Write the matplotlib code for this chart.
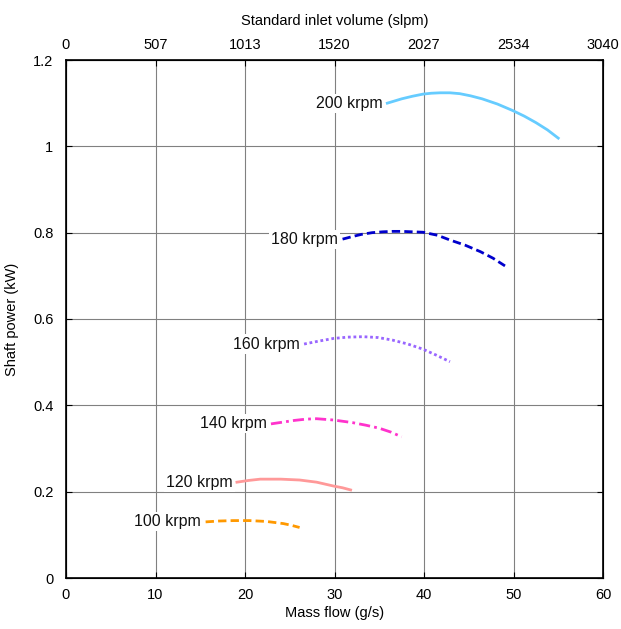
import matplotlib
matplotlib.use("Agg")
import matplotlib.pyplot as plt

plt.rcParams['font.family'] = ['Liberation Sans', 'DejaVu Sans']

labels = ["200 krpm", "180 krpm", "160 krpm", "140 krpm", "120 krpm", "100 krpm"]
flow_200 = [35.9, 36.7, 37.5, 38.7, 39.9, 40.8, 41.8, 42.9, 44.0, 45.2, 46.5, 48.2, 49.9, 51.2, 52.5, 53.8, 55.0]
power_200 = [1.100, 1.105, 1.110, 1.116, 1.121, 1.123, 1.124, 1.124, 1.122, 1.117, 1.110, 1.098, 1.083, 1.070, 1.055, 1.038, 1.019]
flow_180 = [30.9, 32.0, 33.0, 34.2, 35.4, 36.5, 37.5, 38.7, 39.9, 41.5, 42.9, 44.6, 46.3, 47.7, 49.05]
power_180 = [0.785, 0.791, 0.796, 0.800, 0.802, 0.803, 0.803, 0.802, 0.801, 0.794, 0.783, 0.771, 0.756, 0.741, 0.723]
flow_160 = [26.6, 28.3, 29.9, 31.5, 33.2, 34.9, 36.5, 38.2, 39.9, 41.4, 42.9]
power_160 = [0.542, 0.549, 0.555, 0.558, 0.559, 0.557, 0.551, 0.542, 0.530, 0.516, 0.501]
flow_140 = [22.9, 24.2, 25.5, 26.8, 28.0, 29.9, 32.0, 33.5, 35.0, 36.3, 37.5]
power_140 = [0.357, 0.361, 0.365, 0.368, 0.369, 0.366, 0.360, 0.354, 0.347, 0.338, 0.327]
flow_120 = [19.1, 20.4, 21.7, 24.0, 26.1, 28.0, 29.9, 30.9, 31.8]
power_120 = [0.222, 0.226, 0.229, 0.229, 0.227, 0.222, 0.213, 0.209, 0.204]
flow_100 = [15.6, 17.1, 18.7, 20.5, 22.4, 24.3, 25.2, 26.1]
power_100 = [0.130, 0.132, 0.133, 0.133, 0.131, 0.126, 0.122, 0.117]

x_ticks = [0, 10, 20, 30, 40, 50, 60]
y_ticks = [0, 0.2, 0.4, 0.6, 0.8, 1.0, 1.2]
y_ticklabels = ["0", "0.2", "0.4", "0.6", "0.8", "1", "1.2"]
top_ticklabels = ["0", "507", "1013", "1520", "2027", "2534", "3040"]

series = [
    (flow_200, power_200, "#66CCFF", "-"),
    (flow_180, power_180, "#0000CC", (0, (3, 1.5))),
    (flow_160, power_160, "#9966FF", (0, (1, 1))),
    (flow_140, power_140, "#FF33CC", (0, (4, 1.5, 1, 1.5))),
    (flow_120, power_120, "#FF9999", "-"),
    (flow_100, power_100, "#FF9900", (0, (3, 1.5))),
]

fig = plt.figure(figsize=(6.21, 6.29), dpi=100)
ax = fig.add_axes([66/621, 51/629, 537/621, 518/629])

for (fx, py, c, ls), lab in zip(series, labels):
    ax.plot(fx, py, color=c, linestyle=ls, linewidth=2, zorder=3)
    ax.text(fx[0] - 0.5, py[0], lab, ha='right', va='center', fontsize=11.5,
            color='#111111', zorder=4,
            bbox=dict(facecolor='white', edgecolor='none', pad=1.5))

ax.set_xlim(0, 60)
ax.set_ylim(0, 1.2)
ax.set_xticks(x_ticks)
ax.set_yticks(y_ticks)
ax.set_yticklabels(y_ticklabels)
ax.grid(True, color='#808080', linewidth=0.8, linestyle='-')
ax.set_axisbelow(True)
ax.tick_params(axis='x', direction='in', length=4, labelsize=10.5, pad=7)
ax.tick_params(axis='y', direction='in', length=4, labelsize=10.5, pad=9, right=True)
ax.set_xlabel("Mass flow (g/s)", fontsize=10.5, labelpad=3)
ax.set_ylabel("Shaft power (kW)", fontsize=10.5, labelpad=10)
for s in ax.spines.values():
    s.set_linewidth(1.2)

ax2 = ax.twiny()
ax2.set_xlim(0, 60)
ax2.set_xticks(x_ticks)
ax2.set_xticklabels(top_ticklabels)
ax2.tick_params(direction='in', length=4, labelsize=10.5, pad=6)
ax2.set_xlabel("Standard inlet volume (slpm)", fontsize=10.5, labelpad=9)

fig.savefig("out.png", dpi=100)
